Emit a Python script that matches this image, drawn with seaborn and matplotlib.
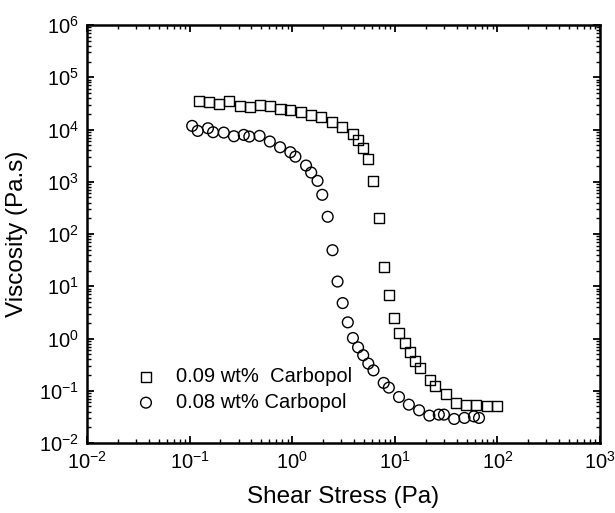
import numpy as np
import pandas as pd
import matplotlib
matplotlib.use("Agg")
import matplotlib.pyplot as plt
import seaborn as sns
from matplotlib.ticker import LogLocator, FixedLocator, FixedFormatter, NullFormatter

# ---- data (log10 values) ----
sq_logx = [-0.913, -0.813, -0.717, -0.614, -0.51, -0.414, -0.314, -0.218, -0.114, -0.018,
           0.085, 0.185, 0.285, 0.389, 0.488, 0.588, 0.638, 0.688, 0.738, 0.792,
           0.842, 0.892, 0.945, 0.995, 1.045, 1.095, 1.145, 1.195, 1.245, 1.345,
           1.395, 1.495, 1.595, 1.694, 1.794, 1.898, 1.994]
sq_logy = [4.547, 4.52, 4.48, 4.547, 4.45, 4.44, 4.46, 4.45, 4.39, 4.375,
           4.34, 4.28, 4.235, 4.15, 4.056, 3.916, 3.795, 3.655, 3.43, 3.02,
           2.30, 1.36, 0.83, 0.40, 0.105, -0.087, -0.26, -0.424, -0.565, -0.788,
           -0.90, -1.06, -1.24, -1.266, -1.266, -1.30, -1.30]
ci_logx = [-0.975, -0.921, -0.821, -0.771, -0.667, -0.568, -0.472, -0.418, -0.318, -0.218,
           -0.118, -0.018, 0.031, 0.135, 0.185, 0.247, 0.293, 0.346, 0.393, 0.442,
           0.492, 0.542, 0.592, 0.642, 0.692, 0.742, 0.792, 0.892, 0.942, 1.041,
           1.137, 1.237, 1.337, 1.429, 1.479, 1.579, 1.679, 1.771, 1.821]
ci_logy = [4.069, 3.973, 4.024, 3.948, 3.941, 3.871, 3.897, 3.865, 3.878, 3.77,
           3.66, 3.565, 3.48, 3.31, 3.176, 3.017, 2.75, 2.33, 1.69, 1.09,
           0.678, 0.309, 0.009, -0.17, -0.32, -0.48, -0.61, -0.85, -0.94, -1.12,
           -1.266, -1.374, -1.476, -1.457, -1.457, -1.54, -1.52, -1.49, -1.52]
series_names = ["0.09 wt%  Carbopol", "0.08 wt% Carbopol"]
xtick_vals = [1e-2, 1e-1, 1e0, 1e1, 1e2, 1e3]
xtick_labels = ["10$^{-2}$", "10$^{-1}$", "10$^{0}$", "10$^{1}$", "10$^{2}$", "10$^{3}$"]
ytick_vals = [1e-2, 1e-1, 1e0, 1e1, 1e2, 1e3, 1e4, 1e5, 1e6]
ytick_labels = ["10$^{-2}$", "10$^{-1}$", "10$^{0}$", "10$^{1}$", "10$^{2}$", "10$^{3}$",
                "10$^{4}$", "10$^{5}$", "10$^{6}$"]
xlabel = "Shear Stress (Pa)"
ylabel = "Viscosity (Pa.s)"

sns.set_theme(style="ticks")
plt.rcParams["font.family"] = ["Liberation Sans", "DejaVu Sans"]
plt.rcParams["mathtext.fontset"] = "custom"
plt.rcParams["mathtext.rm"] = "Liberation Sans"
plt.rcParams["mathtext.default"] = "regular"
plt.rcParams["text.color"] = "black"
plt.rcParams["axes.labelcolor"] = "black"
plt.rcParams["xtick.color"] = "black"
plt.rcParams["ytick.color"] = "black"

df_sq = pd.DataFrame({"x": 10 ** np.array(sq_logx), "y": 10 ** np.array(sq_logy)})
df_ci = pd.DataFrame({"x": 10 ** np.array(ci_logx), "y": 10 ** np.array(ci_logy)})

fig = plt.figure(figsize=(6.15, 5.13), dpi=100)
ax = fig.add_axes([87 / 615, 1 - 443 / 513, 513 / 615, 418 / 513])

sns.scatterplot(data=df_sq, x="x", y="y", marker="s", s=52, facecolor="none",
                edgecolor="black", linewidth=1.0, ax=ax, label=series_names[0])
sns.scatterplot(data=df_ci, x="x", y="y", marker="o", s=60, facecolor="none",
                edgecolor="black", linewidth=1.0, ax=ax, label=series_names[1])

ax.set_xscale("log")
ax.set_yscale("log")
ax.set_xlim(1e-2, 1e3)
ax.set_ylim(1e-2, 1e6)
ax.xaxis.set_major_locator(FixedLocator(xtick_vals))
ax.xaxis.set_major_formatter(FixedFormatter(xtick_labels))
ax.yaxis.set_major_locator(FixedLocator(ytick_vals))
ax.yaxis.set_major_formatter(FixedFormatter(ytick_labels))
ax.xaxis.set_minor_locator(LogLocator(base=10, subs=np.arange(2, 10), numticks=20))
ax.yaxis.set_minor_locator(LogLocator(base=10, subs=np.arange(2, 10), numticks=20))
ax.xaxis.set_minor_formatter(NullFormatter())
ax.yaxis.set_minor_formatter(NullFormatter())

for sp in ax.spines.values():
    sp.set_linewidth(1.8)
    sp.set_color("black")
    sp.set_visible(True)
ax.tick_params(which="both", direction="in", top=True, right=True, color="black",
               labelcolor="black")
ax.tick_params(which="major", length=5, width=1.3, labelsize=14.5, pad=6)
ax.tick_params(which="minor", length=3, width=1.0)

ax.set_xlabel(xlabel, fontsize=17.5, labelpad=9, color="black")
ax.set_ylabel(ylabel, fontsize=17.5, labelpad=8, color="black")

leg = ax.legend(loc="lower left", bbox_to_anchor=(0.06, 0.055), frameon=False,
                fontsize=14.5, handletextpad=0.5, labelspacing=0.35, borderaxespad=0)
for t in leg.get_texts():
    t.set_color("black")

fig.savefig("out.png", dpi=100)
